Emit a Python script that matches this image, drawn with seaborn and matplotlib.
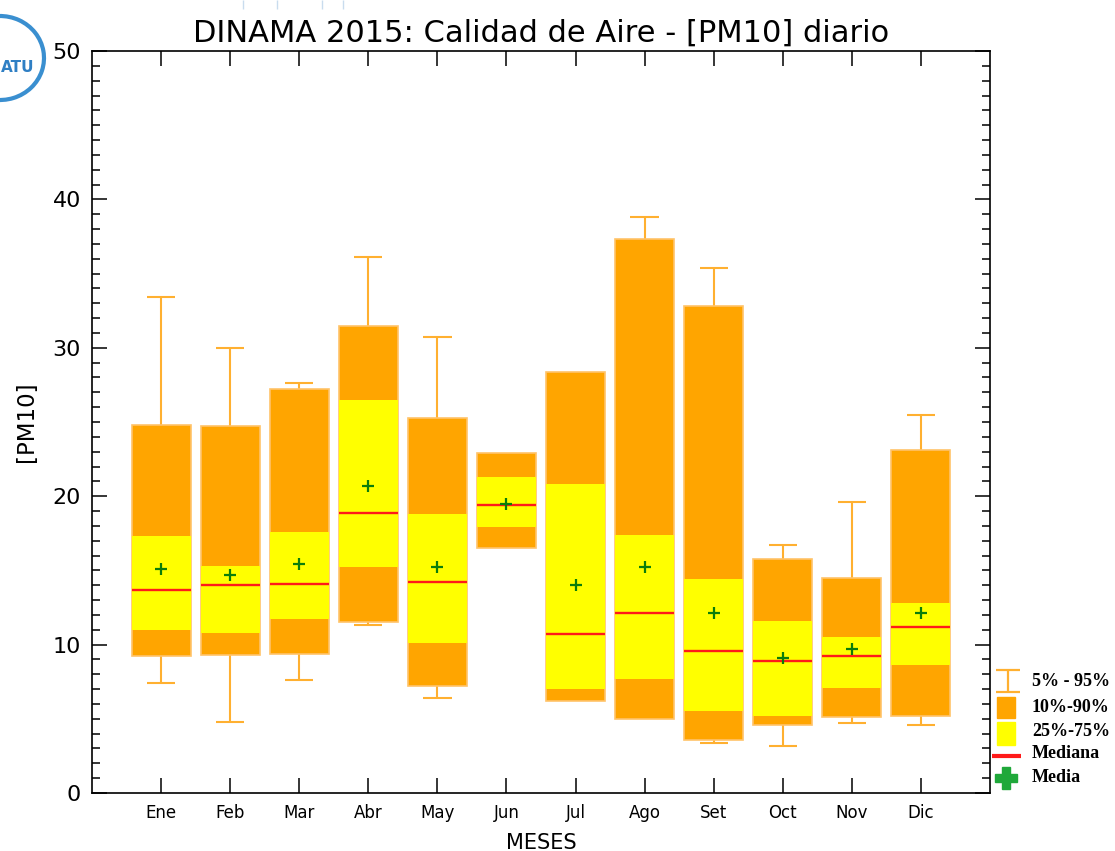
import numpy as np
import matplotlib
matplotlib.use("Agg")
import matplotlib.pyplot as plt
from matplotlib.patches import Arc, Rectangle
import seaborn as sns

# Monthly daily-PM10 percentiles, DINAMA 2015
months = ["Ene", "Feb", "Mar", "Abr", "May", "Jun",
          "Jul", "Ago", "Set", "Oct", "Nov", "Dic"]
p05 = [7.4, 4.8, 7.6, 11.3, 6.4, 16.5, 6.2, 5.0, 3.4, 3.2, 4.7, 4.6]
p10 = [9.2, 9.3, 9.4, 11.5, 7.2, 16.5, 6.2, 5.0, 3.6, 4.6, 5.1, 5.2]
p25 = [11.0, 10.8, 11.7, 15.2, 10.1, 17.9, 7.0, 7.7, 5.5, 5.2, 7.1, 8.6]
p50 = [13.7, 14.0, 14.1, 18.9, 14.2, 19.4, 10.7, 12.1, 9.6, 8.9, 9.2, 11.2]
mean = [15.1, 14.7, 15.4, 20.7, 15.2, 19.5, 14.0, 15.2, 12.1, 9.1, 9.7, 12.1]
p75 = [17.3, 15.3, 17.6, 26.5, 18.8, 21.3, 20.8, 17.4, 14.4, 11.6, 10.5, 12.8]
p90 = [24.8, 24.7, 27.2, 31.5, 25.3, 22.9, 28.4, 37.3, 32.8, 15.8, 14.5, 23.1]
p95 = [33.4, 30.0, 27.6, 36.1, 30.7, 22.9, 28.4, 38.8, 35.4, 16.7, 19.6, 25.5]

ORANGE = "#FFA500"
ORANGE_EDGE = "#FFC36A"
YELLOW = "#FFFF00"
RED = "#FF1A1A"
GREEN = "#0B7D0B"
WHISK = "#FFB030"

sns.set_theme(style="ticks")
plt.rcParams["font.family"] = ["DejaVu Sans"]
plt.rcParams["text.color"] = "black"
plt.rcParams["axes.labelcolor"] = "black"
plt.rcParams["xtick.color"] = "black"
plt.rcParams["ytick.color"] = "black"

W, H = 1115, 851
fig = plt.figure(figsize=(W / 100, H / 100), dpi=100)
ax = fig.add_axes([92 / W, 1 - 793 / H, (990 - 92) / W, (793 - 51) / H])

x = np.arange(1, len(months) + 1)
lo10, hi90 = np.array(p10), np.array(p90)
lo25, hi75 = np.array(p25), np.array(p75)
bw = 0.855
cw = 0.41

# whiskers (5%-95%)
for xi, a, b, c, d in zip(x, p05, p10, p90, p95):
    if d > c:
        ax.vlines(xi, c, d, color=WHISK, lw=1.5, zorder=1)
        ax.hlines(d, xi - cw / 2, xi + cw / 2, color=WHISK, lw=1.5, zorder=1)
    if a < b:
        ax.vlines(xi, a, b, color=WHISK, lw=1.5, zorder=1)
        ax.hlines(a, xi - cw / 2, xi + cw / 2, color=WHISK, lw=1.5, zorder=1)

# 10%-90% and 25%-75% boxes
ax.bar(x, hi90 - lo10, bottom=lo10, width=bw, color=ORANGE,
       edgecolor=ORANGE_EDGE, linewidth=1.2, zorder=2)
ax.bar(x, hi75 - lo25, bottom=lo25, width=bw, color=YELLOW,
       edgecolor="none", linewidth=0, zorder=3)

# median
ax.hlines(p50, x - bw / 2, x + bw / 2, color=RED, lw=1.7, zorder=4)

# mean
sns.scatterplot(x=x, y=mean, marker="+", s=85, color=GREEN,
                linewidth=1.6, ax=ax, zorder=5)

ax.set_xlim(0, 13)
ax.set_ylim(0, 50)
ax.set_xticks(x)
ax.set_xticklabels(months, fontsize=12)
ax.set_yticks(np.arange(0, 51, 10))
ax.set_yticks(np.arange(0, 51, 1), minor=True)
ax.tick_params(axis="both", which="major", direction="in", length=11,
               width=1.1, top=True, right=True)
ax.tick_params(axis="y", which="minor", direction="in", length=6,
               width=1.1, left=True, right=True)
ax.tick_params(axis="x", which="major", pad=8)
ax.tick_params(axis="y", which="major", labelsize=16, pad=8)
for s in ax.spines.values():
    s.set_color("black")
    s.set_linewidth(1.2)

ax.set_xlabel("MESES", fontsize=15, labelpad=8)
ax.set_ylabel("[PM10]", fontsize=16.5, labelpad=10)
ax.set_title("DINAMA 2015: Calidad de Aire - [PM10] diario",
             fontsize=22, pad=7)

# overlay in pixel coordinates for the key and the logo
lax = fig.add_axes([0, 0, 1, 1], zorder=10)
lax.set_xlim(0, W)
lax.set_ylim(H, 0)
lax.axis("off")
lax.patch.set_alpha(0)

# key
lax.hlines([670, 692], 996, 1020, color=WHISK, lw=1.6)
lax.vlines(1008, 670, 692, color=WHISK, lw=1.6)
lax.add_patch(Rectangle((997, 697), 18, 21, color=ORANGE))
lax.add_patch(Rectangle((997, 722), 18, 23, color=YELLOW))
lax.hlines(756, 992, 1021, color=RED, lw=3)
lax.plot([1006], [778], marker="P", ms=16, color="#1FA83A", mec="#1FA83A")
key_font = dict(family="Liberation Serif", fontweight="bold", fontsize=13,
                va="center", ha="left", color="black")
for ty, txt in zip([681, 707, 731, 754, 777],
                   ["5% - 95%", "10%-90%", "25%-75%", "Mediana", "Media"]):
    lax.text(1032, ty, txt, **key_font)

# logo
lax.add_patch(Arc((0, 58), 88, 84, theta1=-120, theta2=100, color="#3A8FD0", lw=3))
lax.text(1, 68, "ATU", fontsize=11, fontweight="bold", color="#2F7FC4",
         va="center", ha="left")
lax.vlines([243, 277, 322, 343], 0, 9, color="#C9DCEE", lw=1)

fig.savefig("out.png", dpi=100)
